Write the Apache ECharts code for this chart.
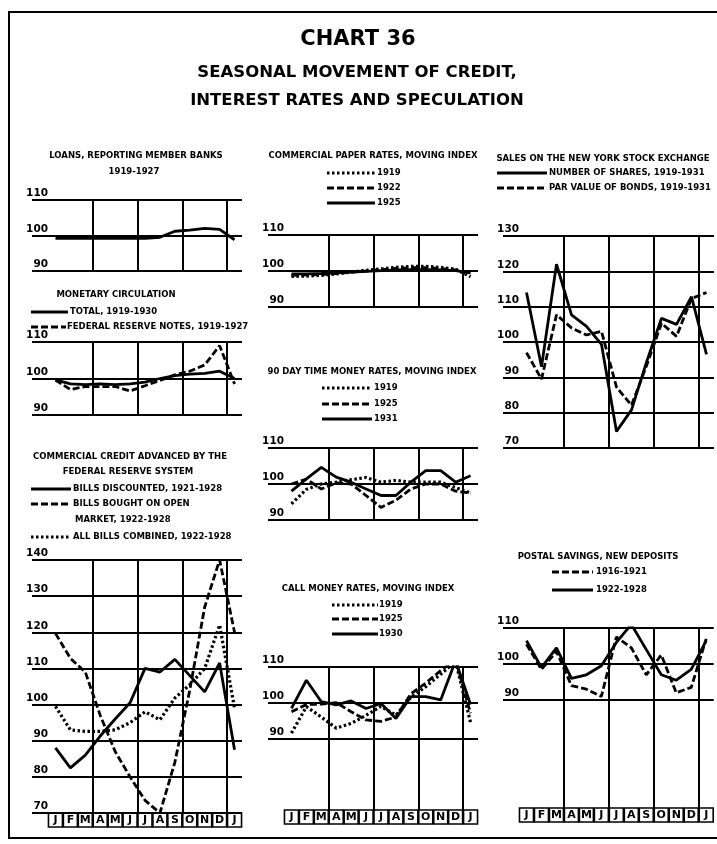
<!DOCTYPE html>
<html><head><meta charset="utf-8">
<script src="https://cdn.jsdelivr.net/npm/echarts@6/dist/echarts.min.js"></script>
<style>html,body{margin:0;padding:0;background:#fff}#c{width:717px;height:844px}</style>
</head><body><div id="c"></div>
<script>
// ---------- DATA ----------
const months = ['J','F','M','A','M','J','J','A','S','O','N','D','J'];

// Loans, reporting member banks 1919-1927
const loansMemberBanks = [99.2, 99.2, 99.2, 99.2, 99.2, 99.2, 99.2, 99.5, 101.2, 101.5, 102, 101.7, 98.8];
// Monetary circulation
const monetaryTotal = [99.6, 98.5, 98.3, 98.5, 98.3, 98.5, 99, 100, 100.8, 101.2, 101.4, 102, 100];
const federalReserveNotes = [99.6, 97, 97.8, 97.8, 97.8, 96.6, 98, 99.5, 101, 102, 103.7, 109, 98.5];
// Commercial credit advanced by the Federal Reserve System
const billsDiscounted = [88, 82.5, 86, 91.3, 96, 100.5, 110, 109, 112.5, 108, 103.5, 111.5, 87.5];
const billsBoughtOpenMarket = [119.7, 112.8, 109, 97, 87, 80, 73.5, 70, 84, 104, 127, 140, 120];
const allBillsCombined = [99.5, 93, 92.6, 92.6, 93, 95, 98, 95.8, 101.8, 105.5, 110, 122, 99];
// Commercial paper rates, moving index
const paper1919 = [98.5, 98.6, 98.8, 99.2, 99.7, 100.2, 100.6, 101, 101.3, 101.3, 101, 100.5, 98.4];
const paper1922 = [98.8, 98.9, 99, 99.3, 99.7, 100, 100.4, 100.7, 100.9, 100.9, 100.7, 100.3, 99];
const paper1925 = [99.2, 99.2, 99.3, 99.5, 99.7, 99.9, 100.1, 100.3, 100.4, 100.4, 100.3, 100.1, 99.5];
// 90 day time money rates, moving index
const timeMoney1919 = [94.5, 98.5, 100, 100.5, 101.2, 101.8, 100.5, 101, 100.5, 100.5, 100.5, 99, 97.5];
const timeMoney1925 = [100, 101.4, 98.6, 100.3, 100, 96.8, 93.5, 95.5, 98.6, 100, 100, 98, 97.5];
const timeMoney1931 = [98, 101.4, 104.6, 101.9, 100.5, 98.6, 96.8, 96.8, 100.5, 103.7, 103.7, 100.5, 102.3];
// Call money rates, moving index
const callMoney1919 = [91.5, 98.9, 96, 92.9, 94.2, 96.5, 99, 96.5, 101.5, 104.5, 108, 111.5, 94.5];
const callMoney1925 = [97.5, 99.5, 99.6, 100, 97.5, 95.2, 94.8, 96, 102.5, 105.5, 109, 112, 97];
const callMoney1930 = [98.4, 106.3, 100.3, 99.4, 100.5, 98.4, 99.8, 95.6, 101.7, 101.7, 100.8, 111.8, 99.5];
// Sales on the New York Stock Exchange
const numberOfShares = [114, 93, 122, 107.7, 104.4, 99.3, 74.7, 80.8, 94.3, 106.7, 105, 112.8, 96.5];
const parValueBonds = [97, 89.5, 107.7, 104, 102, 103, 87.2, 82.1, 93.3, 105.3, 101.6, 112.3, 114];
// Postal savings, new deposits
const postal1916_1921 = [105.5, 98.5, 103.5, 94, 93, 91, 107.5, 104.5, 97, 102.5, 92, 93.5, 107];
const postal1922_1928 = [106.5, 99, 104.5, 96, 97, 99.5, 106, 111, 104, 97, 95.5, 98.5, 106.5];

// Axis tick labels
const ticks90to110 = [90, 100, 110];
const ticks70to140 = [70, 80, 90, 100, 110, 120, 130, 140];
const ticks70to130 = [70, 80, 90, 100, 110, 120, 130];

// ---------- LAYOUT / STYLE ----------
const FONT = '"DejaVu Sans", "Liberation Sans", sans-serif';
const panels = [
  {left: 48,  top: 200, width: 194, height: 71,  min: 90, max: 110, labels: ticks90to110, months: false},
  {left: 48,  top: 342, width: 194, height: 73,  min: 90, max: 110, labels: ticks90to110, months: false},
  {left: 48,  top: 560, width: 194, height: 253, min: 70, max: 140, labels: ticks70to140, months: true},
  {left: 284, top: 235, width: 194, height: 72,  min: 90, max: 110, labels: ticks90to110, months: false},
  {left: 284, top: 448, width: 194, height: 72,  min: 90, max: 110, labels: ticks90to110, months: false},
  {left: 284, top: 667, width: 194, height: 143, min: 70, max: 110, labels: ticks90to110, months: true},
  {left: 519, top: 236, width: 195, height: 212, min: 70, max: 130, labels: ticks70to130, months: false},
  {left: 519, top: 628, width: 195, height: 180, min: 60, max: 110, labels: ticks90to110, months: true}
];
const SOLID = 'solid', DASH = [7, 3], DOT = [2.5, 2.5];
const seriesDefs = [
  {p: 0, data: loansMemberBanks, dash: SOLID, name: 'Loans'},
  {p: 1, data: monetaryTotal, dash: SOLID, name: 'Total'},
  {p: 1, data: federalReserveNotes, dash: DASH, name: 'Federal Reserve notes'},
  {p: 2, data: billsDiscounted, dash: SOLID, name: 'Bills discounted'},
  {p: 2, data: billsBoughtOpenMarket, dash: DASH, name: 'Bills bought'},
  {p: 2, data: allBillsCombined, dash: DOT, name: 'All bills'},
  {p: 3, data: paper1919, dash: DOT, name: 'CP 1919'},
  {p: 3, data: paper1922, dash: DASH, name: 'CP 1922'},
  {p: 3, data: paper1925, dash: SOLID, name: 'CP 1925'},
  {p: 4, data: timeMoney1919, dash: DOT, name: 'TM 1919'},
  {p: 4, data: timeMoney1925, dash: DASH, name: 'TM 1925'},
  {p: 4, data: timeMoney1931, dash: SOLID, name: 'TM 1931'},
  {p: 5, data: callMoney1919, dash: DOT, name: 'CM 1919'},
  {p: 5, data: callMoney1925, dash: DASH, name: 'CM 1925'},
  {p: 5, data: callMoney1930, dash: SOLID, name: 'CM 1930'},
  {p: 6, data: numberOfShares, dash: SOLID, name: 'Shares'},
  {p: 6, data: parValueBonds, dash: DASH, name: 'Bonds'},
  {p: 7, data: postal1916_1921, dash: DASH, name: 'Postal 1916-1921'},
  {p: 7, data: postal1922_1928, dash: SOLID, name: 'Postal 1922-1928'}
];

const grid = [], xAxis = [], yAxis = [];
panels.forEach((p, i) => {
  grid.push({left: p.left, top: p.top, width: p.width, height: p.height});
  xAxis.push({
    gridIndex: i, type: 'category', data: months, boundaryGap: true,
    axisLine: {show: false}, axisTick: {show: false},
    splitLine: {show: true, showMinLine: true, showMaxLine: false,
      interval: (idx) => idx > 0 && idx % 3 === 0,
      lineStyle: {color: '#000', width: 2}},
    axisLabel: p.months ? {
      show: true, interval: 0, color: '#000', margin: 0,
      formatter: (v) => '{b|' + v + '}',
      rich: {b: {width: 11, align: 'center', fontFamily: FONT, fontWeight: 'bold', fontSize: 11,
                 lineHeight: 13, color: '#000'}},
      borderColor: '#000', borderWidth: 1.6, padding: [1, 1.5, 0, 1.5]
    } : {show: false}
  });
  yAxis.push({
    gridIndex: i, type: 'value', min: p.min, max: p.max, interval: 10,
    axisLine: {show: false},
    axisTick: {show: true, length: 16, customValues: p.labels, lineStyle: {color: '#000', width: 2}},
    axisLabel: {show: true, customValues: p.labels, color: '#000', fontFamily: FONT, fontWeight: 'bold',
      fontSize: 10.5, verticalAlign: 'bottom', padding: [0, 0, 1, 0], margin: 0},
    splitLine: {show: true, lineStyle: {color: '#000', width: 2}}
  });
});

const series = seriesDefs.map(s => ({
  type: 'line', name: s.name, xAxisIndex: s.p, yAxisIndex: s.p, data: s.data,
  symbol: 'none', silent: true, animation: false, z: 5,
  lineStyle: {color: '#000', width: s.dash === DOT ? 3.2 : 2.8, type: s.dash}
}));

// ---------- TEXT & LEGEND SAMPLES ----------
const txt = (text, x, y, size, align) => ({
  type: 'text', silent: true,
  style: {text, x, y, fill: '#000', font: 'bold ' + size + 'px ' + FONT,
    textAlign: align || 'center', textVerticalAlign: 'middle'}
});
const sample = (x1, x2, y, dash) => ({
  type: 'line', silent: true,
  shape: {x1, y1: y, x2, y2: y},
  style: {stroke: '#000', lineWidth: dash === DOT ? 3.2 : 2.8, lineDash: dash === SOLID ? null : dash}
});
const S = 8.5;
const graphic = [
  {type: 'rect', silent: true, shape: {x: 9, y: 12, width: 720, height: 826},
   style: {fill: 'none', stroke: '#000', lineWidth: 2}},
  txt('CHART 36', 358, 40, 21),
  txt('SEASONAL MOVEMENT OF CREDIT,', 357, 73, 16.5),
  txt('INTEREST RATES AND SPECULATION', 357, 101, 16.5),
  // Loans
  txt('LOANS, REPORTING MEMBER BANKS', 136, 156, S),
  txt('1919-1927', 134, 172, S),
  // Monetary circulation
  txt('MONETARY CIRCULATION', 116, 295, S),
  sample(31, 68, 312, SOLID), txt('TOTAL, 1919-1930', 70, 312, S, 'left'),
  sample(31, 66, 327, DASH), txt('FEDERAL RESERVE NOTES, 1919-1927', 67, 327, S, 'left'),
  // Commercial credit
  txt('COMMERCIAL CREDIT ADVANCED BY THE', 130, 457, S),
  txt('FEDERAL RESERVE SYSTEM', 128, 472, S),
  sample(31, 71, 489, SOLID), txt('BILLS DISCOUNTED, 1921-1928', 73, 489, S, 'left'),
  sample(31, 71, 504, DASH), txt('BILLS BOUGHT ON OPEN', 73, 504, S, 'left'),
  txt('MARKET, 1922-1928', 75, 520, S, 'left'),
  sample(31, 71, 537, DOT), txt('ALL BILLS COMBINED, 1922-1928', 73, 537, S, 'left'),
  // Commercial paper
  txt('COMMERCIAL PAPER RATES, MOVING INDEX', 373, 156, S),
  sample(327, 375, 173, DOT), txt('1919', 377, 173, S, 'left'),
  sample(327, 375, 188, DASH), txt('1922', 377, 188, S, 'left'),
  sample(327, 375, 203, SOLID), txt('1925', 377, 203, S, 'left'),
  // 90 day time money
  txt('90 DAY TIME MONEY RATES, MOVING INDEX', 372, 372, S),
  sample(322, 372, 388, DOT), txt('1919', 374, 388, S, 'left'),
  sample(322, 372, 404, DASH), txt('1925', 374, 404, S, 'left'),
  sample(322, 372, 419, SOLID), txt('1931', 374, 419, S, 'left'),
  // Call money
  txt('CALL MONEY RATES, MOVING INDEX', 368, 589, S),
  sample(332, 378, 605, DOT), txt('1919', 379, 605, S, 'left'),
  sample(332, 378, 619, DASH), txt('1925', 379, 619, S, 'left'),
  sample(332, 378, 634, SOLID), txt('1930', 379, 634, S, 'left'),
  // NYSE
  txt('SALES ON THE NEW YORK STOCK EXCHANGE', 603, 159, S),
  sample(497, 547, 173, SOLID), txt('NUMBER OF SHARES, 1919-1931', 549, 173, S, 'left'),
  sample(497, 547, 188, DASH), txt('PAR VALUE OF BONDS, 1919-1931', 549, 188, S, 'left'),
  // Postal savings
  txt('POSTAL SAVINGS, NEW DEPOSITS', 598, 557, S),
  sample(552, 593, 572, DASH), txt('1916-1921', 596, 572, S, 'left'),
  sample(552, 593, 590, SOLID), txt('1922-1928', 596, 590, S, 'left')
];

const chart = echarts.init(document.getElementById('c'), null, {renderer: 'canvas'});
chart.setOption({
  backgroundColor: '#fff',
  animation: false,
  grid, xAxis, yAxis, series, graphic
});
</script>
</body></html>
